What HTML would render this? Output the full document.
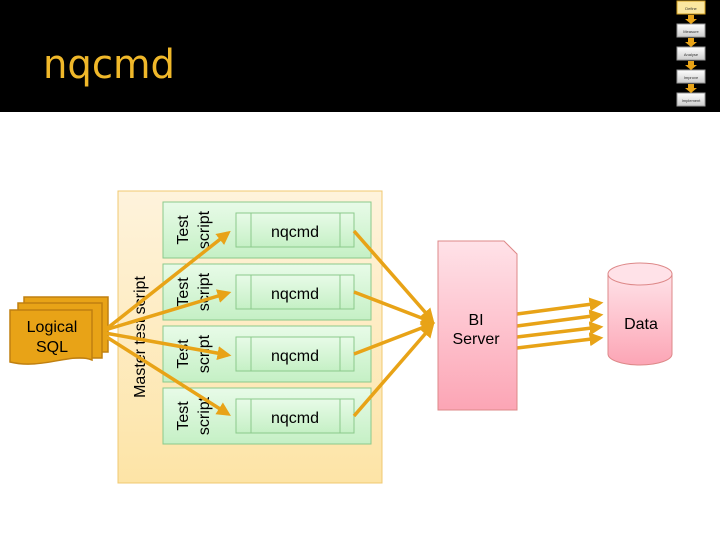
<!DOCTYPE html>
<html><head><style>
body{margin:0;width:720px;height:540px;background:#fff;overflow:hidden;font-family:"Liberation Sans",sans-serif}
</style></head><body>
<svg width="720" height="540" xmlns="http://www.w3.org/2000/svg" style="position:absolute;left:0;top:0">
<defs>
<linearGradient id="gy" x1="0" y1="0" x2="0" y2="1"><stop offset="0" stop-color="#fef3dc"/><stop offset="1" stop-color="#fde4a6"/></linearGradient>
<linearGradient id="gg" x1="0" y1="0" x2="0" y2="1"><stop offset="0" stop-color="#e8fbe8"/><stop offset="1" stop-color="#c5f0c5"/></linearGradient>
<linearGradient id="gp" x1="0" y1="0" x2="0" y2="1"><stop offset="0" stop-color="#ffe2e8"/><stop offset="1" stop-color="#fca5b5"/></linearGradient>
<linearGradient id="gn" x1="0" y1="0" x2="0" y2="1"><stop offset="0" stop-color="#fff"/><stop offset="1" stop-color="#ccc"/></linearGradient>
<marker id="ah" markerWidth="4" markerHeight="4" refX="3" refY="2" orient="auto"><path d="M0,0 L4,2 L0,4 z" fill="#e8a317"/></marker>
</defs>
<rect x="0" y="0" width="720" height="112" fill="#000"/>
<text x="43" y="78" font-size="40" fill="#f0b82a" font-family="DejaVu Sans, sans-serif" textLength="132" lengthAdjust="spacingAndGlyphs">nqcmd</text>
<rect x="677" y="1" width="28" height="13" fill="#fbe7a0" stroke="#d4a020"/>
<g fill="url(#gn)" stroke="#999"><rect x="677" y="24" width="28" height="13"/><rect x="677" y="47" width="28" height="13"/><rect x="677" y="70" width="28" height="13"/><rect x="677" y="93" width="28" height="13"/></g>
<g fill="#e8a317"><path d="M688,15h6v4h3l-6,5-6-5h3z"/><path d="M688,38h6v4h3l-6,5-6-5h3z"/><path d="M688,61h6v4h3l-6,5-6-5h3z"/><path d="M688,84h6v4h3l-6,5-6-5h3z"/></g>
<g font-size="4" text-anchor="middle" fill="#333"><text x="691" y="10">Define</text><text x="691" y="33">Measure</text><text x="691" y="56">Analyse</text><text x="691" y="79">Improve</text><text x="691" y="102">Implement</text></g>

<rect x="118" y="191" width="264" height="292" fill="url(#gy)" stroke="#f0c870"/>
<text transform="translate(145,337) rotate(-90)" font-size="16" text-anchor="middle" fill="#000">Master test script</text>
<g stroke="#8bc98b" fill="url(#gg)">
<rect x="163" y="202" width="208" height="56"/><rect x="163" y="264" width="208" height="56"/><rect x="163" y="326" width="208" height="56"/><rect x="163" y="388" width="208" height="56"/>
<rect x="236" y="213" width="118" height="34"/><rect x="236" y="275" width="118" height="34"/><rect x="236" y="337" width="118" height="34"/><rect x="236" y="399" width="118" height="34"/>
<path d="M251,213v34M340,213v34M251,275v34M340,275v34M251,337v34M340,337v34M251,399v34M340,399v34" fill="none"/>
</g>
<g font-size="16" fill="#000" text-anchor="middle">
<text x="295" y="237">nqcmd</text><text x="295" y="299">nqcmd</text><text x="295" y="361">nqcmd</text><text x="295" y="423">nqcmd</text>
</g>
<g font-size="16" fill="#000" text-anchor="middle">
<text transform="translate(188,230) rotate(-90)">Test</text><text transform="translate(209,230) rotate(-90)">script</text>
<text transform="translate(188,292) rotate(-90)">Test</text><text transform="translate(209,292) rotate(-90)">script</text>
<text transform="translate(188,354) rotate(-90)">Test</text><text transform="translate(209,354) rotate(-90)">script</text>
<text transform="translate(188,416) rotate(-90)">Test</text><text transform="translate(209,416) rotate(-90)">script</text>
</g>

<g fill="#e8a317" stroke="#c08010" stroke-width="1.5">
<rect x="24" y="297" width="84" height="55"/>
<rect x="18" y="303" width="84" height="55"/>
<path d="M10,310h82v50c-20,-8 -50,10 -82,2z"/>
</g>
<text x="52" y="332" font-size="16" text-anchor="middle" fill="#000">Logical</text>
<text x="52" y="352" font-size="16" text-anchor="middle" fill="#000">SQL</text>

<g stroke="#e8a317" stroke-width="3.5" fill="none" marker-end="url(#ah)">
<path d="M105,330 L228,233"/><path d="M105,330 L228,293"/><path d="M105,333 L228,355"/><path d="M105,336 L228,414"/>
<path d="M354,231 L432,320"/><path d="M354,292 L432,322"/><path d="M354,354 L432,324"/><path d="M354,416 L432,326"/>
<path d="M517,314 L600,303"/><path d="M517,326 L600,315"/><path d="M517,337 L600,327"/><path d="M517,348 L600,338"/>
</g>
<path d="M438,241h66l13,13v156h-79z" fill="url(#gp)" stroke="#d88"/>
<text x="476" y="325" font-size="16" text-anchor="middle" fill="#000">BI</text>
<text x="476" y="344" font-size="16" text-anchor="middle" fill="#000">Server</text>
<path d="M608,274v80a32,11 0 0 0 64,0v-80z" fill="url(#gp)" stroke="#d88"/>
<ellipse cx="640" cy="274" rx="32" ry="11" fill="#ffe2e8" stroke="#d88"/>
<text x="641" y="329" font-size="16" text-anchor="middle" fill="#000">Data</text>
</svg>
</body></html>
